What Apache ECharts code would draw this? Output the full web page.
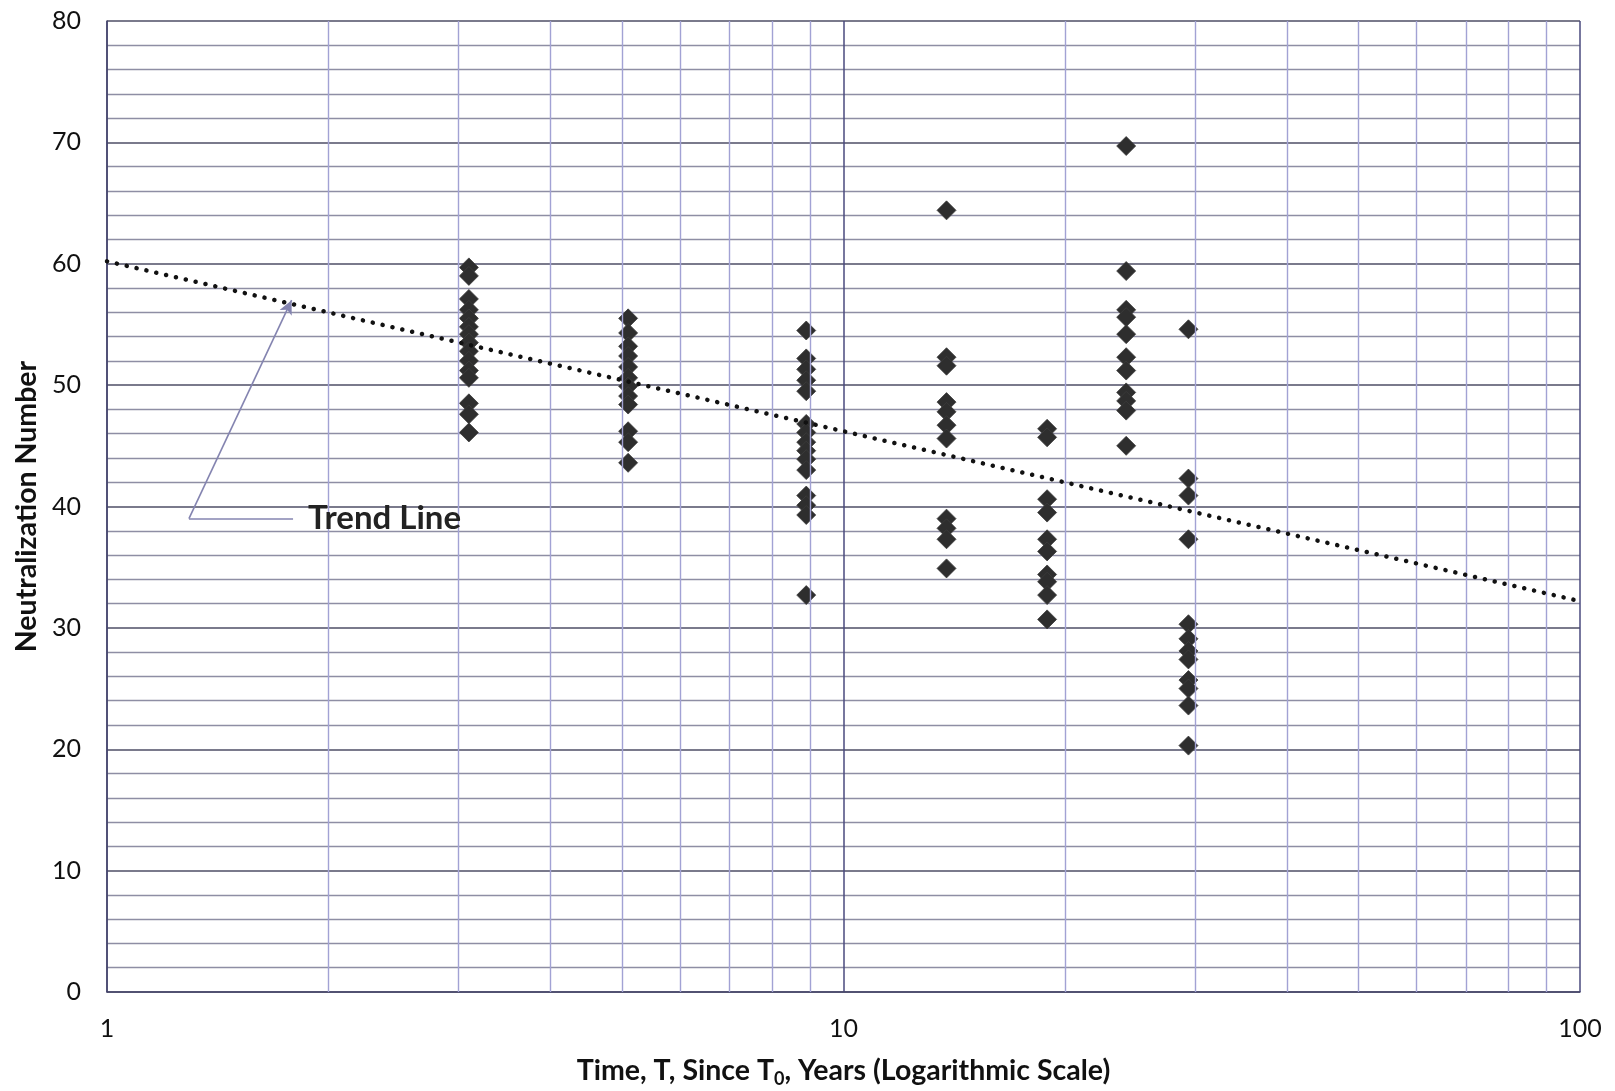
<!DOCTYPE html>
<html>
<head>
<meta charset="utf-8">
<title>Neutralization Number vs Time</title>
<script src="https://cdn.jsdelivr.net/npm/echarts@6/dist/echarts.min.js"></script>
<style>
  html, body { margin: 0; padding: 0; background: #ffffff; }
  #chart { width: 1615px; height: 1091px; }
</style>
</head>
<body>
<div id="chart"></div>
<script>
// Axis ticks
const xMajorTicks = [1, 10, 100];
const xMinorTicks = [2, 3, 4, 5, 6, 7, 8, 9, 20, 30, 40, 50, 60, 70, 80, 90];
const yTicks = [0, 10, 20, 30, 40, 50, 60, 70, 80];

// Sample times (years since T0), one per inspection group
const sampleTimes = [3.1, 5.1, 8.9, 13.8, 18.9, 24.2, 29.4];

// Neutralization numbers measured at each sample time
const group1 = [59.7, 59.0, 57.1, 56.2, 55.5, 54.8, 54.2, 53.5, 52.8, 52.0, 51.2, 50.6, 48.5, 47.6, 46.1];
const group2 = [55.5, 54.3, 53.2, 52.4, 51.5, 50.6, 49.9, 49.1, 48.4, 46.2, 45.3, 43.6];
const group3 = [54.5, 52.2, 51.3, 50.4, 49.5, 46.8, 46.1, 45.3, 44.6, 43.9, 43.0, 40.9, 40.1, 39.3, 32.7];
const group4 = [64.4, 52.3, 51.6, 48.6, 47.8, 46.7, 45.6, 39.0, 38.2, 37.3, 34.9];
const group5 = [46.4, 45.7, 40.6, 39.5, 37.3, 36.3, 34.4, 33.8, 32.7, 30.7];
const group6 = [69.7, 59.4, 56.2, 55.6, 54.2, 52.3, 51.2, 49.4, 48.7, 47.9, 45.0];
const group7 = [54.6, 42.3, 40.9, 37.3, 30.3, 29.1, 28.1, 27.4, 25.7, 25.0, 23.6, 20.3];

// Logarithmic trend line end points
const trendX = [1, 100];
const trendY = [60.2, 32.2];

const groups = [group1, group2, group3, group4, group5, group6, group7];
const points = [];
groups.forEach((vals, i) => vals.forEach(v => points.push([sampleTimes[i], v])));
const trendPoints = trendX.map((x, i) => [x, trendY[i]]);

const FONT = 'Lato, "Open Sans", sans-serif';
const chart = echarts.init(document.getElementById('chart'), null, { renderer: 'canvas' });

chart.setOption({
  backgroundColor: '#ffffff',
  animation: false,
  grid: { left: 107, right: 35, top: 21, bottom: 99, containLabel: false, outerBoundsMode: 'none' },
  xAxis: {
    type: 'log',
    logBase: 10,
    min: xMajorTicks[0],
    max: xMajorTicks[xMajorTicks.length - 1],
    axisLine: { show: true, onZero: false, lineStyle: { color: '#45456a', width: 1.5 } },
    axisTick: { show: false },
    axisLabel: { show: true, fontFamily: FONT, fontSize: 25, color: '#111', margin: 24 },
    splitLine: { show: true, lineStyle: { color: '#4a4a7e', width: 1.5 } },
    minorTick: { show: false },
    minorSplitLine: { show: false },
    name: 'Time, T, Since T{sub|0}, Years (Logarithmic Scale)',
    nameLocation: 'middle',
    nameGap: 62,
    nameTextStyle: {
      fontFamily: FONT, fontSize: 28.5, fontWeight: 'bold', color: '#111', lineHeight: 34,
      rich: { sub: { fontFamily: FONT, fontSize: 18, fontWeight: 'bold', color: '#111', verticalAlign: 'bottom', lineHeight: 25 } }
    }
  },
  yAxis: {
    type: 'value',
    min: yTicks[0],
    max: yTicks[yTicks.length - 1],
    interval: yTicks[1] - yTicks[0],
    axisLine: { show: true, lineStyle: { color: '#45456a', width: 1.5 } },
    axisTick: { show: false },
    axisLabel: { fontFamily: FONT, fontSize: 25, color: '#111', margin: 26 },
    splitLine: { show: true, lineStyle: { color: '#4e4e66', width: 1.6 } },
    minorTick: { show: false, splitNumber: 5 },
    minorSplitLine: { show: true, lineStyle: { color: '#8e8ea4', width: 1.3 } },
    name: 'Neutralization Number',
    nameLocation: 'middle',
    nameGap: 64,
    nameTextStyle: { fontFamily: FONT, fontSize: 28.5, fontWeight: 'bold', color: '#111' }
  },
  series: [
    {
      // intermediate log-decade gridlines (2..9, 20..90)
      type: 'line',
      data: [],
      silent: true,
      z: 1,
      markLine: {
        silent: true,
        symbol: 'none',
        label: { show: false },
        lineStyle: { type: 'solid', color: '#a2a2d4', width: 1.4 },
        data: xMinorTicks.map(v => ({ xAxis: v }))
      }
    },
    {
      name: 'Samples',
      type: 'scatter',
      symbol: 'diamond',
      symbolSize: 19,
      z: 4,
      itemStyle: { color: '#2e2e2e', borderColor: '#3c3c3c', borderWidth: 0.8, opacity: 1 },
      data: points
    },
    {
      name: 'Trend',
      type: 'line',
      data: trendPoints,
      symbol: 'none',
      z: 5,
      lineStyle: { color: '#111', width: 4.5, type: [0.1, 10], cap: 'round' },
      markLine: {
        silent: true,
        animation: false,
        lineStyle: { color: '#8484b0', width: 1.6, type: 'solid' },
        label: { show: false },
        data: [
          [
            { coord: [1.292, 39.0], symbol: 'none' },
            {
              coord: [1.789, 39.0], symbol: 'none',
              label: {
                show: true, position: 'end', formatter: 'Trend Line', distance: 15,
                fontFamily: FONT, fontSize: 33, fontWeight: 'bold', color: '#222'
              }
            }
          ],
          [
            { coord: [1.292, 39.0], symbol: 'none' },
            { coord: [1.781, 57.0], symbol: 'arrow', symbolSize: [10, 14] }
          ]
        ]
      }
    }
  ]
});
</script>
</body>
</html>
